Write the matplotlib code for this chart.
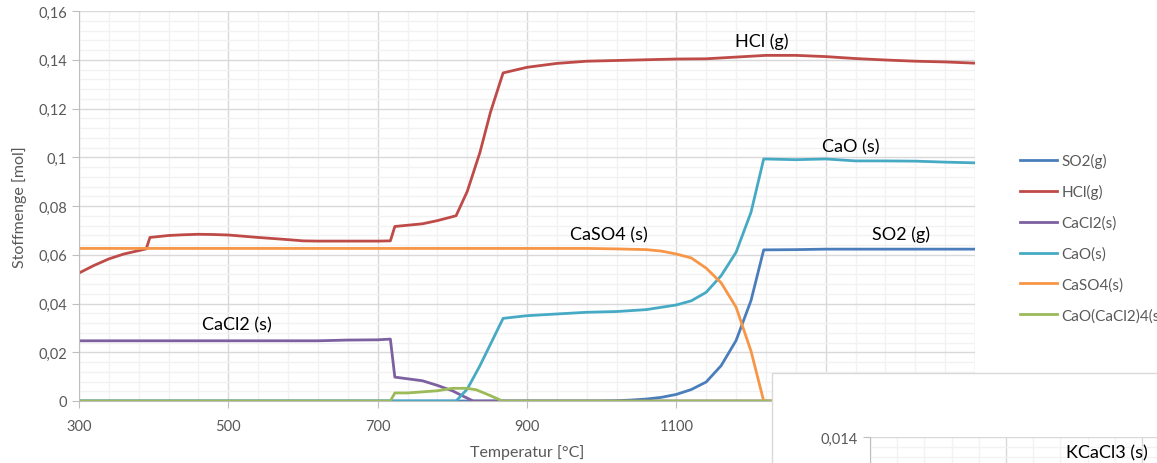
import matplotlib
matplotlib.use("Agg")
import matplotlib.pyplot as plt
from matplotlib.ticker import MultipleLocator, FuncFormatter
from matplotlib.patches import Rectangle

plt.rcParams['font.family'] = ['Lato', 'DejaVu Sans']

# ---------------- data ----------------
T_so2 = [300, 1000, 1020, 1040, 1060, 1080, 1100, 1120, 1140, 1160, 1180, 1200, 1217, 1260, 1300, 1500]
so2 = [0, 0, 0.0001, 0.0004, 0.0008, 0.0015, 0.0027, 0.0047, 0.0078, 0.0145, 0.0248, 0.0412,
       0.0620, 0.0621, 0.0623, 0.0623]

T_hcl = [300, 320, 340, 360, 380, 390, 395, 420, 440, 460, 480, 500, 540, 580, 600, 620, 660,
         700, 717, 723, 760, 780, 805, 820, 837, 851, 868, 900, 940, 980, 1020, 1060, 1100,
         1140, 1180, 1220, 1260, 1300, 1340, 1380, 1420, 1460, 1500]
hcl = [0.0525, 0.0556, 0.0583, 0.0603, 0.0617, 0.0624, 0.0671, 0.0679, 0.0682, 0.0684, 0.0683,
       0.0681, 0.0671, 0.0662, 0.0657, 0.0656, 0.0656, 0.0656, 0.0657, 0.0716, 0.0727, 0.0740,
       0.0760, 0.0860, 0.1020, 0.1184, 0.1346, 0.1369, 0.1385, 0.1394, 0.1397, 0.1400, 0.1403,
       0.1404, 0.1411, 0.1418, 0.1418, 0.1413, 0.1405, 0.1399, 0.1394, 0.1391, 0.1386]

T_cacl2 = [300, 620, 660, 700, 717, 723, 760, 780, 800, 813, 828, 1500]
cacl2 = [0.0247, 0.0247, 0.0250, 0.0251, 0.0254, 0.0098, 0.0083, 0.0064, 0.0042, 0.0022, 0, 0]

T_cao = [300, 805, 820, 837, 868, 900, 940, 980, 1020, 1060, 1100, 1120, 1140, 1160, 1180,
         1200, 1217, 1260, 1300, 1340, 1380, 1420, 1460, 1500]
cao = [0, 0, 0.0049, 0.0145, 0.0339, 0.0350, 0.0357, 0.0364, 0.0367, 0.0375, 0.0394, 0.0411,
       0.0446, 0.0514, 0.0610, 0.0774, 0.0993, 0.0990, 0.0993, 0.0985, 0.0985, 0.0984, 0.0980, 0.0977]

T_caso4 = [300, 980, 1020, 1060, 1080, 1100, 1120, 1140, 1160, 1180, 1200, 1217, 1500]
caso4 = [0.0626, 0.0626, 0.0624, 0.0621, 0.0615, 0.0603, 0.0587, 0.0545, 0.0485, 0.0385,
         0.0205, 0, 0]

T_mix = [300, 717, 723, 740, 780, 800, 820, 832, 851, 867, 1500]
mix = [0, 0, 0.0033, 0.0033, 0.0042, 0.0052, 0.0052, 0.0046, 0.0022, 0, 0]

series = [
    ("SO2(g)", T_so2, so2, "#4A7EBB"),
    ("HCl(g)", T_hcl, hcl, "#BE4B48"),
    ("CaCl2(s)", T_cacl2, cacl2, "#7D60A0"),
    ("CaO(s)", T_cao, cao, "#46AAC5"),
    ("CaSO4(s)", T_caso4, caso4, "#F79646"),
    ("CaO(CaCl2)4(s)", T_mix, mix, "#9BBB59"),
]

labels = [("HCl (g)", 1215, 0.1477), ("CaO (s)", 1333, 0.1046), ("SO2 (g)", 1401, 0.0685),
          ("CaSO4 (s)", 1010, 0.0685), ("CaCl2 (s)", 512, 0.0316)]

x_major = list(range(300, 1501, 200))
x_minor = list(range(300, 1501, 40))

gray = "#595959"
W, H = 1157, 464
fig = plt.figure(figsize=(W / 100, H / 100), dpi=100)
ax = fig.add_axes([79 / W, 62 / H, 896 / W, 390 / H])


def comma(v, pos):
    s = ("%.3f" % v).rstrip("0").rstrip(".")
    return s.replace(".", ",")


for name, t, y, c in series:
    ax.plot(t, y, color=c, lw=2, label=name, solid_joinstyle="round")

ax.set_xlim(300, 1500)
ax.set_ylim(0, 0.16)
ax.set_xticks(x_major)
ax.set_xticks(x_minor, minor=True)
ax.yaxis.set_major_locator(MultipleLocator(0.02))
ax.yaxis.set_minor_locator(MultipleLocator(0.004))
ax.yaxis.set_major_formatter(FuncFormatter(comma))
ax.grid(which="major", color="#d9d9d9", lw=1)
ax.grid(which="minor", color="#f2f2f2", lw=1)
ax.set_axisbelow(True)
for s in ["top", "right"]:
    ax.spines[s].set_visible(False)
for s in ["left", "bottom"]:
    ax.spines[s].set_color("#bfbfbf")
ax.tick_params(which="major", length=5, color="#bfbfbf", labelcolor=gray, labelsize=10.5)
ax.tick_params(which="minor", length=0)
ax.tick_params(axis="x", pad=8)
ax.set_xlabel("Temperatur [°C]", fontsize=11.5, color=gray, labelpad=8)
ax.set_ylabel("Stoffmenge [mol]", fontsize=11.5, color=gray, labelpad=8)

for txt, x, y in labels:
    ax.text(x, y, txt, fontsize=13, ha="center", va="center", color="black")

fig.legend(loc="upper left", bbox_to_anchor=(1020 / W, (H - 154) / H), frameon=False,
           fontsize=11, handlelength=2.4, handletextpad=0.3, labelspacing=1.07,
           borderpad=0, borderaxespad=0, labelcolor=gray)

# second chart sticking in from the lower right corner
fig.patches.append(Rectangle((772 / W, -0.2), 0.5, 0.2 + (H - 374) / H,
                             transform=fig.transFigure, facecolor="white",
                             edgecolor="#d9d9d9", lw=1, zorder=1))
ax2 = fig.add_axes([870 / W, (H - 438 - 350) / H, 816 / W, 350 / H], zorder=2)
ax2.patch.set_alpha(0)
ax2.set_xlim(300, 1500)
ax2.set_ylim(0, 0.014)
ax2.set_xticks(x_major)
ax2.set_xticks(x_minor, minor=True)
ax2.yaxis.set_major_locator(MultipleLocator(0.002))
ax2.yaxis.set_minor_locator(MultipleLocator(0.0004))
ax2.yaxis.set_major_formatter(FuncFormatter(lambda v, p: comma(v, p) if v > 0.0135 else ""))
ax2.grid(which="major", color="#d9d9d9", lw=1)
ax2.grid(which="minor", color="#f2f2f2", lw=1)
for s in ["top", "right", "bottom"]:
    ax2.spines[s].set_visible(False)
ax2.spines["left"].set_color("#bfbfbf")
ax2.tick_params(which="major", length=5, color="#bfbfbf", labelcolor=gray, labelsize=10.5)
ax2.tick_params(which="minor", length=0)
ax2.tick_params(axis="x", length=0, labelbottom=False)
fig.text(1107 / W, (H - 453) / H, "KCaCl3 (s)", fontsize=13, ha="center", va="center",
         zorder=3)

fig.savefig("out.png", dpi=100)
